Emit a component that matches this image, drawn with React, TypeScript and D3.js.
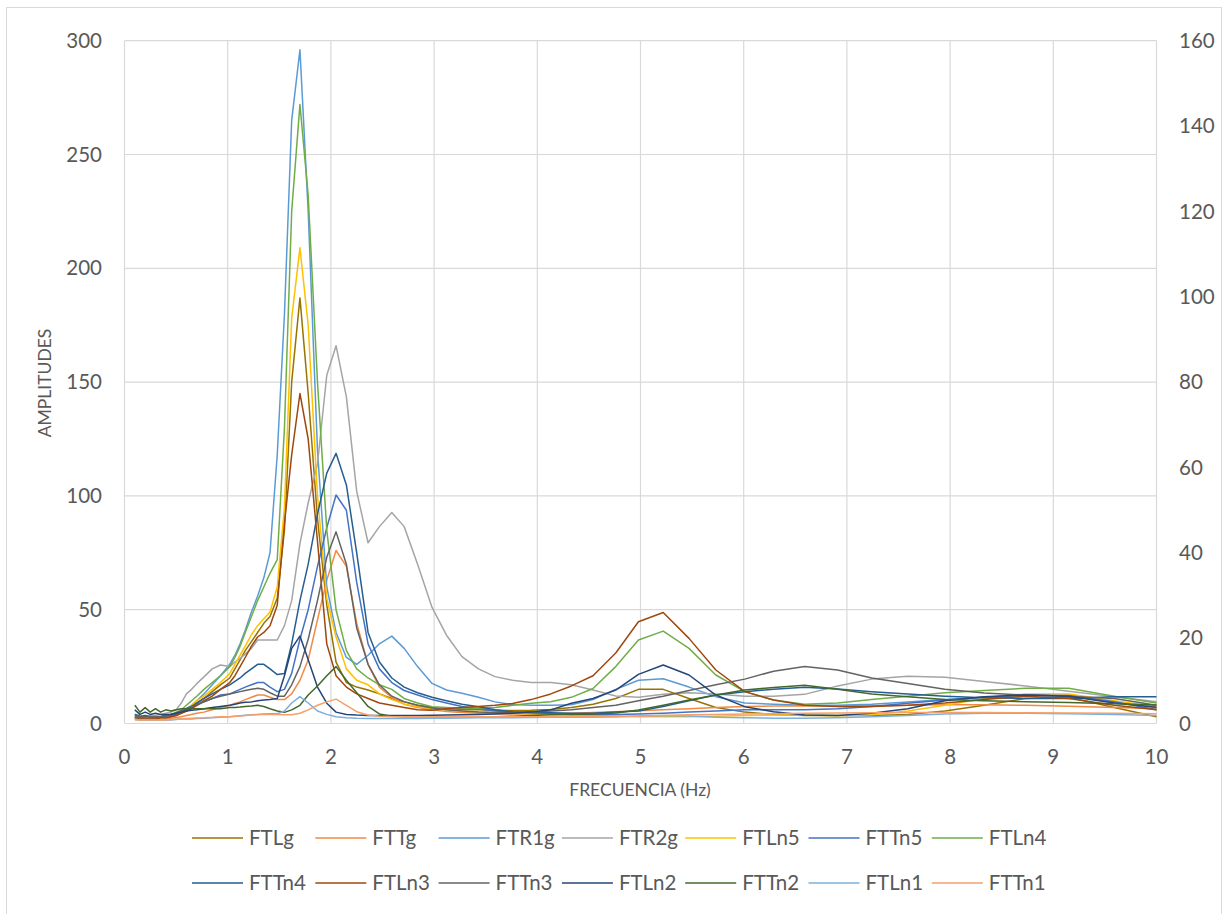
import React from "react";
import * as d3 from "d3";

// Frequency grid (Hz) shared by every transfer function
const freq = [
  0.1, 0.15, 0.2, 0.25, 0.3, 0.35, 0.4, 0.45, 0.5, 0.55,
  0.6, 0.65, 0.7, 0.77, 0.85, 0.93, 1.02, 1.07, 1.12, 1.17,
  1.23, 1.29, 1.35, 1.41, 1.48, 1.55, 1.62, 1.7, 1.78, 1.87,
  1.96, 2.05, 2.15, 2.25, 2.36, 2.47, 2.59, 2.71, 2.84, 2.98,
  3.12, 3.27, 3.43, 3.59, 3.76, 3.94, 4.13, 4.33, 4.54, 4.76,
  4.98, 5.22, 5.47, 5.73, 6.01, 6.29, 6.59, 6.91, 7.24, 7.59,
  7.95, 8.33, 8.73, 9.15, 9.59, 10.0,
];

const FTLg = [
  2.5, 2, 2, 2, 2, 2.5, 2.5, 3, 3.5, 4.5,
  5.5, 7, 9, 11, 14, 17, 20, 24, 28, 32,
  36, 40, 44, 47, 55, 85, 150, 187, 145, 90,
  52, 27, 18, 16, 14.7, 13, 11, 9.5, 8, 7,
  6.5, 6.2, 6, 5.8, 5.7, 5.8, 6.2, 7, 8.5, 11,
  15, 15, 11, 7, 5, 4, 3.5, 3.5, 3.5, 4,
  5.5, 8, 11, 11.5, 7, 3,
];
const FTTg = [
  2, 1.8, 1.8, 1.8, 1.8, 2, 2, 2.3, 2.6, 3,
  3.5, 4, 4.5, 5, 6, 7, 8, 8.8, 9.5, 10.5,
  11.5, 12.5, 12.5, 11.5, 10.5, 10.5, 13, 19, 28, 45.5,
  63, 76, 69, 44, 26, 16, 11.5, 8.5, 7, 6,
  5.3, 4.8, 4.5, 4.3, 4.2, 4.2, 4.3, 4.5, 4.8, 5.2,
  5.6, 6, 6.5, 7, 7.5, 7.7, 7.7, 7.7, 7.8, 8,
  8.2, 8.2, 8, 7.6, 7, 6.6,
];
const FTR1g = [
  3, 2.5, 2.5, 2.5, 2.5, 3, 3, 3.5, 4, 5,
  6.5, 8, 10, 13, 17, 21, 26, 30, 35, 41,
  49, 56, 64, 75, 118, 180, 265, 296, 225, 120,
  60, 40, 29, 26, 30, 35, 38.4, 33, 25, 17.6,
  14.7, 13.3, 11.5, 9.5, 8.3, 8, 8, 8.2, 10.5, 15,
  19, 19.7, 16, 11.8, 9, 8.5, 8, 8, 8.5, 9.5,
  10.5, 11.5, 12.5, 12, 9.5, 7,
];
const FTR2g = [
  3, 3, 3, 3.5, 3.5, 4, 4.5, 5, 6, 9,
  13, 15, 17.5, 20.5, 24, 25.7, 25, 27, 28.6, 30.5,
  33, 36.7, 36.7, 36.7, 36.7, 43, 54, 79, 97, 114,
  153, 166, 143.5, 102, 79.4, 86.5, 92.7, 86.5, 70, 51,
  38.8, 29.4, 24, 20.6, 19, 18, 18, 17, 14.7, 12.1,
  11.5, 12.9, 13.5, 13, 12, 12, 12.8, 16.5, 19.5, 20.8,
  20.3, 18.5, 16.5, 14.2, 11.8, 9.6,
];
const FTLn5 = [
  3, 2.5, 2.5, 2.5, 2.5, 3, 3, 3.5, 4, 5,
  6, 8, 10, 12, 15, 18, 22, 26, 30, 34,
  39, 43, 46, 49, 60, 95, 178, 209, 175, 100,
  55, 38, 24, 19, 17, 13, 10.5, 8.5, 7.5, 6.6,
  6, 5.5, 5, 4.8, 4.5, 4.2, 4, 3.8, 3.5, 3.3,
  3, 3, 3, 3.2, 3.5, 3.7, 3.7, 3.4, 3.8, 5.5,
  8, 11, 13, 13, 10, 7.4,
];
const FTTn5 = [
  3, 2.5, 2.5, 2.5, 2.5, 3, 3, 3.5, 4, 5,
  6, 7, 8, 9.5, 11, 12.5, 13, 14, 15, 16,
  17, 18, 18, 16, 14, 15, 22, 37, 50, 69,
  86, 100.4, 93.7, 62, 35, 24, 18, 14.5, 12.5, 10.5,
  9, 7.5, 6.5, 5.5, 5, 4.6, 4.3, 4, 4, 4,
  4.2, 4.5, 5, 5.5, 6, 6, 6, 6.5, 7.5, 8.9,
  10.3, 11.5, 12.5, 12.3, 9.6, 6,
];
const FTLn4 = [
  4, 3.5, 3, 3, 3, 3, 3.5, 4, 5, 6,
  8, 10, 12, 15, 18, 21, 25, 29, 34, 40,
  47, 54, 60, 66, 72, 130, 225, 272, 232, 150,
  85, 50, 32, 24, 20, 17, 15, 11, 9, 7.4,
  7, 6.7, 6.7, 7, 8, 8.9, 9.6, 11.5, 15.4, 25,
  36.7, 40.6, 33, 21.3, 14, 10.3, 8.5, 9, 10.5, 12,
  13.5, 14.5, 15.5, 15.5, 12, 9,
];
const FTTn4 = [
  4, 3, 3.5, 3, 3, 3, 3.5, 4, 4.5, 5.5,
  6.5, 7.5, 9, 11, 13, 15, 17, 18.5, 20, 22,
  24, 26, 26, 24, 21.5, 22, 35, 54, 70, 92,
  110, 118.7, 104.8, 75, 40, 27, 20, 16, 13.5, 11.5,
  10, 8.5, 7.4, 6, 5.2, 5, 4.7, 4.5, 4.5, 5,
  5.5, 7.5, 10, 12.5, 14, 15, 15.9, 15.2, 14, 13,
  12, 11.3, 11, 11, 11.8, 11.8,
];
const FTLn3 = [
  2.5, 2, 2, 2, 2, 2.5, 2.5, 3, 3.5, 4.5,
  5.5, 6.5, 8, 10, 12, 15, 18, 21, 25, 29,
  34, 38, 40, 43, 52, 88, 118, 145, 125, 80,
  35, 21, 16, 13, 11, 9, 8, 7, 6, 5.8,
  6.5, 7, 7.5, 8, 8.8, 10.5, 13, 16.5, 21, 31,
  44.7, 48.8, 37.4, 23.5, 14, 10.3, 8, 7.5, 7.5, 8,
  9, 10.5, 12, 11, 8, 6,
];
const FTTn3 = [
  3.5, 3, 3, 3, 3, 3, 3.5, 4, 4.5, 5.5,
  6.5, 7.5, 8.5, 9.5, 11, 12, 13, 13.5, 14, 14.5,
  15, 15.5, 15, 13.5, 12, 12, 17, 25, 37, 54,
  73, 84.2, 70, 42, 26, 17, 12, 9.6, 8, 6.8,
  6, 5.5, 5, 4.8, 4.7, 5, 5.5, 6, 7, 8,
  10, 12, 14.5, 17, 19.5, 23, 25, 23.5, 20, 17.6,
  15, 13.4, 12.5, 12, 11, 8,
];
const FTLn2 = [
  6, 4, 5, 4, 4.5, 4, 4, 4, 4.5, 5,
  5.5, 5.8, 6, 6.5, 7, 7.5, 8, 8.5, 9, 9.3,
  9.5, 10, 10.3, 10.5, 11, 21, 33, 38.4, 28, 16,
  8.9, 5, 4, 3.7, 3.5, 3.5, 3.5, 3.5, 3.5, 3.6,
  3.7, 3.8, 4, 4.2, 4.5, 5, 6, 8.9, 11, 14.7,
  21.6, 25.7, 21.3, 12.5, 7.4, 5.2, 3.7, 3.5, 4.5, 6.5,
  10, 11.8, 12.5, 12, 9, 7.1,
];
const FTTn2 = [
  8, 5, 7, 5, 6.5, 5, 6, 5.5, 6, 6.5,
  6.5, 6.5, 6.5, 6.5, 6.5, 6.5, 7, 7, 7.2, 7.5,
  7.7, 8, 7.5, 6.5, 5.5, 4.9, 6, 8, 12.5, 16.5,
  21, 25, 19, 13.5, 7.5, 4.2, 3.2, 3, 3, 3,
  3, 3, 3, 3, 3.2, 3.5, 3.8, 4, 4.2, 4.6,
  5.9, 8, 10.3, 12.5, 14.7, 15.8, 16.8, 15, 13, 11.8,
  10.5, 10, 9.6, 9.2, 8.7, 8.1,
];
const FTLn1 = [
  2, 1.5, 1.5, 1.5, 1.5, 1.5, 1.5, 1.5, 1.8, 2,
  2, 2, 2.2, 2.3, 2.5, 2.7, 3, 3.2, 3.4, 3.6,
  3.8, 4, 4.2, 4.3, 4.3, 5.5, 9, 11.8, 9, 5.5,
  4, 3, 2.5, 2.3, 2.2, 2.2, 2.2, 2.2, 2.2, 2.3,
  2.3, 2.4, 2.5, 2.5, 2.5, 2.6, 2.7, 2.7, 2.8, 3,
  3.3, 3.5, 3.3, 2.8, 2.5, 2.3, 2.3, 2.5, 3, 3.5,
  4.2, 4.5, 4.5, 4.3, 4, 3.5,
];
const FTTn1 = [
  1.5, 1.5, 1.5, 1.5, 1.5, 1.5, 1.5, 1.8, 2, 2,
  2.2, 2.3, 2.4, 2.5, 2.7, 3, 3, 3.2, 3.3, 3.5,
  3.7, 3.9, 4, 4, 4, 3.8, 3.8, 4.5, 6, 8,
  9.5, 10.7, 8, 5.2, 3.7, 3.2, 3, 3, 3, 3,
  3, 3, 3, 3, 3, 3, 3, 3, 3, 3,
  3.2, 3.5, 3.8, 4, 4.2, 4.3, 4.5, 4.6, 4.7, 4.8,
  4.8, 4.8, 4.7, 4.6, 4.5, 4.3,
];

const seriesNames = [
  "FTLg", "FTTg", "FTR1g", "FTR2g", "FTLn5", "FTTn5", "FTLn4",
  "FTTn4", "FTLn3", "FTTn3", "FTLn2", "FTTn2", "FTLn1", "FTTn1",
];
const seriesValues = [
  FTLg, FTTg, FTR1g, FTR2g, FTLn5, FTTn5, FTLn4,
  FTTn4, FTLn3, FTTn3, FTLn2, FTTn2, FTLn1, FTTn1,
];
const seriesColors = [
  "#997300", "#F08A45", "#5B9BD5", "#A5A5A5", "#FFC000", "#4472C4", "#70AD47",
  "#255E91", "#9E480E", "#636363", "#264478", "#43682B", "#7CAFDD", "#F4A06A",
];

const xTicks = [0, 1, 2, 3, 4, 5, 6, 7, 8, 9, 10];
const leftTicks = [0, 50, 100, 150, 200, 250, 300];
const rightTicks = [0, 20, 40, 60, 80, 100, 120, 140, 160];

const FONT = "Lato, 'Open Sans', sans-serif";
const TEXT = "#595959";
const GRID = "#D9D9D9";

export default function App() {
  const W = 1223;
  const H = 914;
  const plot = { left: 124.5, right: 1156.5, top: 40.7, bottom: 723.5 };

  const x = d3.scaleLinear().domain([0, 10]).range([plot.left, plot.right]);
  const y = d3.scaleLinear().domain([0, 300]).range([plot.bottom, plot.top]);
  const y2 = d3.scaleLinear().domain([0, 160]).range([plot.bottom, plot.top]);

  const line = d3
    .line<number>()
    .x((_, i) => x(freq[i]))
    .y((d) => y(d));

  // legend: two rows of seven entries
  const legendX0 = 192;
  const legendStep = 123.3;
  const legendRows = [838, 883];
  const perRow = 7;

  return (
    <svg
      width={W}
      height={H}
      style={{ position: "absolute", left: 0, top: 0, background: "#fff" }}
      fontFamily={FONT}
    >
      <rect x={0} y={0} width={W} height={H} fill="#fff" />
      <rect x={6.5} y={7.5} width={1215} height={920} fill="none" stroke={GRID} strokeWidth={1} />

      {/* gridlines */}
      {leftTicks.map((t) => (
        <line key={"hy" + t} x1={plot.left} x2={plot.right} y1={y(t)} y2={y(t)} stroke={GRID} strokeWidth={1.2} />
      ))}
      {xTicks.map((t) => (
        <line key={"gx" + t} x1={x(t)} x2={x(t)} y1={plot.top} y2={plot.bottom} stroke={GRID} strokeWidth={1.2} />
      ))}

      {/* series */}
      <g fill="none" strokeWidth={1.5} strokeLinejoin="round">
        {seriesValues.map((vals, i) => (
          <path key={seriesNames[i]} d={line(vals) ?? ""} stroke={seriesColors[i]} />
        ))}
      </g>

      {/* left axis labels */}
      {leftTicks.map((t) => (
        <text key={"ly" + t} x={102} y={y(t)} dy="0.35em" textAnchor="end" fontSize={20.5} fill={TEXT}>
          {t}
        </text>
      ))}
      {/* right axis labels */}
      {rightTicks.map((t) => (
        <text key={"ry" + t} x={1179} y={y2(t)} dy="0.35em" textAnchor="start" fontSize={20.5} fill={TEXT}>
          {t}
        </text>
      ))}
      {/* x axis labels */}
      {xTicks.map((t) => (
        <text key={"lx" + t} x={x(t)} y={757} dy="0.35em" textAnchor="middle" fontSize={20.5} fill={TEXT}>
          {t}
        </text>
      ))}

      {/* axis titles */}
      <text x={640} y={790} dy="0.35em" textAnchor="middle" fontSize={17.5} fill={TEXT}>
        FRECUENCIA (Hz)
      </text>
      <text
        transform={`translate(45, 383) rotate(-90)`}
        dy="0.35em"
        textAnchor="middle"
        fontSize={17.5}
        fill={TEXT}
      >
        AMPLITUDES
      </text>

      {/* legend */}
      {seriesNames.map((name, i) => {
        const col = i % perRow;
        const row = Math.floor(i / perRow);
        const lx = legendX0 + col * legendStep;
        const ly = legendRows[row];
        return (
          <g key={"lg" + name}>
            <line x1={lx} x2={lx + 51} y1={ly} y2={ly} stroke={seriesColors[i]} strokeWidth={1.5} />
            <text x={lx + 57} y={ly} dy="0.35em" fontSize={20.5} fill={TEXT}>
              {name}
            </text>
          </g>
        );
      })}
    </svg>
  );
}
